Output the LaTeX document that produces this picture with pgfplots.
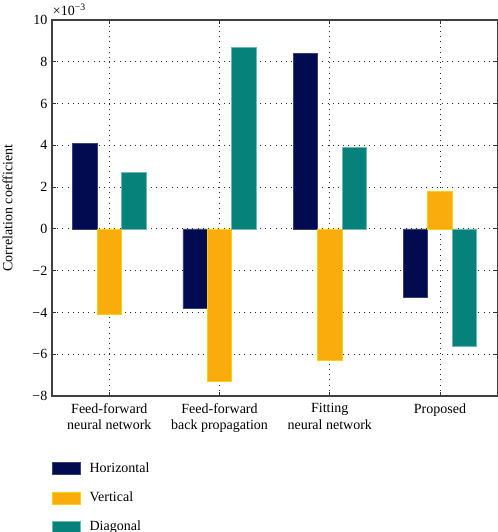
\documentclass[border=0pt]{standalone}
\usepackage{fontspec}
\setmainfont{Liberation Serif}
\usepackage{pgfplots}
\pgfplotsset{compat=1.18}
\definecolor{cH}{HTML}{020B4F}
\definecolor{cHe}{HTML}{3A4275}
\definecolor{cV}{HTML}{F9AC0C}
\definecolor{cVe}{HTML}{F5D20A}
\definecolor{cD}{HTML}{07827A}
\definecolor{cDe}{HTML}{6FB8B3}
\begin{document}
\begin{tikzpicture}
\begin{axis}[
  scale only axis, width=334pt, height=282pt,
  at={(0,0)}, anchor=south west,
  xmin=-0.52, xmax=3.52, ymin=-8, ymax=10,
  xtick={0,1,2,3},
  xticklabels={{Feed-forward\\neural network},{Feed-forward\\back propagation},{Fitting\\neural network},{Proposed}},
  xticklabel style={align=center, font=\fontsize{10.5}{12.5}\selectfont, yshift=-2pt},
  ytick={-8,-6,-4,-2,0,2,4,6,8,10},
  yticklabels={−8,−6,−4,−2,0,2,4,6,8,10},
  yticklabel style={font=\fontsize{10.5}{12.5}\selectfont},
  grid=major, grid style={black!85, line width=0.7pt, dash pattern=on 0.7pt off 3.2pt},
  tick align=inside, major tick length=3pt,
  tick style={black!80, line width=0.6pt},
  axis line style={line width=1.1pt, black!75},
  ylabel={Correlation coefficient},
  ylabel style={font=\fontsize{10.5}{12.5}\selectfont, at={(axis description cs:-0.078,0.5)}, anchor=south},
  legend style={draw=none, fill=none, at={(axis description cs:0,0)}, anchor=north west, yshift=-48pt, inner xsep=0pt, inner ysep=0pt, row sep=9pt, font=\fontsize{10.5}{12.5}\selectfont, legend cell align=left},
]
\addplot[ybar, bar width=0.222, bar shift=-0.222, fill=cH, draw=cHe, line width=0.5pt,
  legend image code/.code={\draw[fill=cH, draw=cHe, line width=0.5pt] (0pt,-4.5pt) rectangle (21pt,4.5pt);}]
  coordinates {(0,4.1) (1,-3.8) (2,8.4) (3,-3.3)};
\addlegendentry{\hspace{4.5pt}Horizontal}
\addplot[ybar, bar width=0.222, bar shift=0, fill=cV, draw=cVe, line width=0.5pt,
  legend image code/.code={\draw[fill=cV, draw=cVe, line width=0.5pt] (0pt,-4.5pt) rectangle (21pt,4.5pt);}]
  coordinates {(0,-4.1) (1,-7.3) (2,-6.3) (3,1.8)};
\addlegendentry{\hspace{4.5pt}Vertical}
\addplot[ybar, bar width=0.222, bar shift=0.222, fill=cD, draw=cDe, line width=0.5pt,
  legend image code/.code={\draw[fill=cD, draw=cDe, line width=0.5pt] (0pt,-4.5pt) rectangle (21pt,4.5pt);}]
  coordinates {(0,2.7) (1,8.7) (2,3.9) (3,-5.6)};
\addlegendentry{\hspace{4.5pt}Diagonal}
\end{axis}
\node[anchor=south west, inner sep=0pt, font=\fontsize{10.5}{12.5}\selectfont] at (0.5pt,285pt) {×10\textsuperscript{−3}};
\pgfresetboundingbox
\path[use as bounding box] (-39pt,-102pt) rectangle (334.5pt,297pt);
\end{tikzpicture}
\end{document}
